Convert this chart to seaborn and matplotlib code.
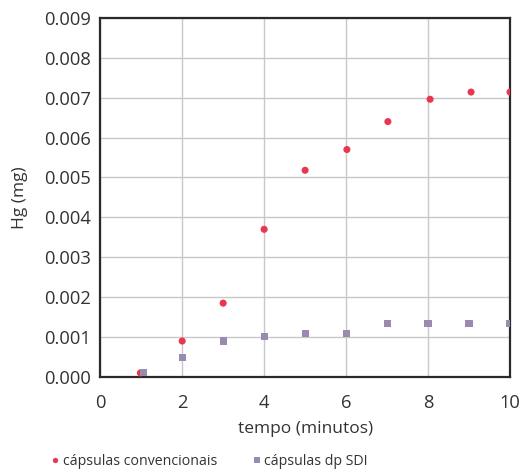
import numpy as np
import pandas as pd
import matplotlib.pyplot as plt
import seaborn as sns

sns.set_theme(style="whitegrid")
plt.rcParams['font.family'] = ['Open Sans', 'DejaVu Sans']

# dados
tempo_conv = [0.98, 2.0, 3.0, 4.0, 5.0, 6.02, 7.02, 8.05, 9.05, 10.0]
hg_conv = [0.0001, 0.0009, 0.00185, 0.0037, 0.00518, 0.0057, 0.0064, 0.00696, 0.00714, 0.00714]
tempo_sdi = [1.05, 2.0, 3.0, 4.0, 5.0, 6.0, 7.0, 8.0, 9.0, 10.0]
hg_sdi = [0.0001, 0.00048, 0.0009, 0.00102, 0.0011, 0.0011, 0.00135, 0.00135, 0.00135, 0.00135]
series = ['cápsulas convencionais', 'cápsulas dp SDI']

df = pd.concat([
    pd.DataFrame({'tempo': tempo_conv, 'hg': hg_conv, 'serie': series[0]}),
    pd.DataFrame({'tempo': tempo_sdi, 'hg': hg_sdi, 'serie': series[1]}),
])

fig, ax = plt.subplots(figsize=(5.22, 4.70), dpi=100)
fig.subplots_adjust(left=0.192, right=0.977, top=0.962, bottom=0.198)

sns.scatterplot(data=df, x='tempo', y='hg', hue='serie', style='serie',
                markers={series[0]: 'o', series[1]: 's'},
                palette={series[0]: '#E8384F', series[1]: '#9A8AAF'},
                s=26, linewidth=0, ax=ax, legend=True, zorder=3)

ax.set_xlim(0, 10)
ax.set_ylim(0, 0.009)
ax.set_xticks(range(0, 11, 2))
ax.set_yticks(np.arange(0, 0.0091, 0.001))
ax.set_yticklabels([f'{v:.3f}' for v in np.arange(0, 0.0091, 0.001)])
ax.grid(True, color='#c8c8c8', linewidth=1)
for sp in ax.spines.values():
    sp.set_color('#2a2a2a')
    sp.set_linewidth(1.6)
ax.tick_params(axis='both', length=0, labelsize=13.2, colors='#333333')
ax.tick_params(axis='x', pad=12)
ax.tick_params(axis='y', pad=7)
ax.set_xlabel('tempo (minutos)', fontsize=12.5, color='#333333', labelpad=7)
ax.set_ylabel('Hg (mg)', fontsize=12.5, color='#333333', labelpad=11)

handles, labels = ax.get_legend_handles_labels()
ax.get_legend().remove()
fig.legend(handles, labels, loc='center left', bbox_to_anchor=(0.075, 0.019), ncol=2,
           frameon=False, fontsize=10.2, handlelength=0.5, handletextpad=0.3,
           columnspacing=2.5, markerscale=0.75, labelcolor='#333333')

fig.savefig('out.png', dpi=100)
